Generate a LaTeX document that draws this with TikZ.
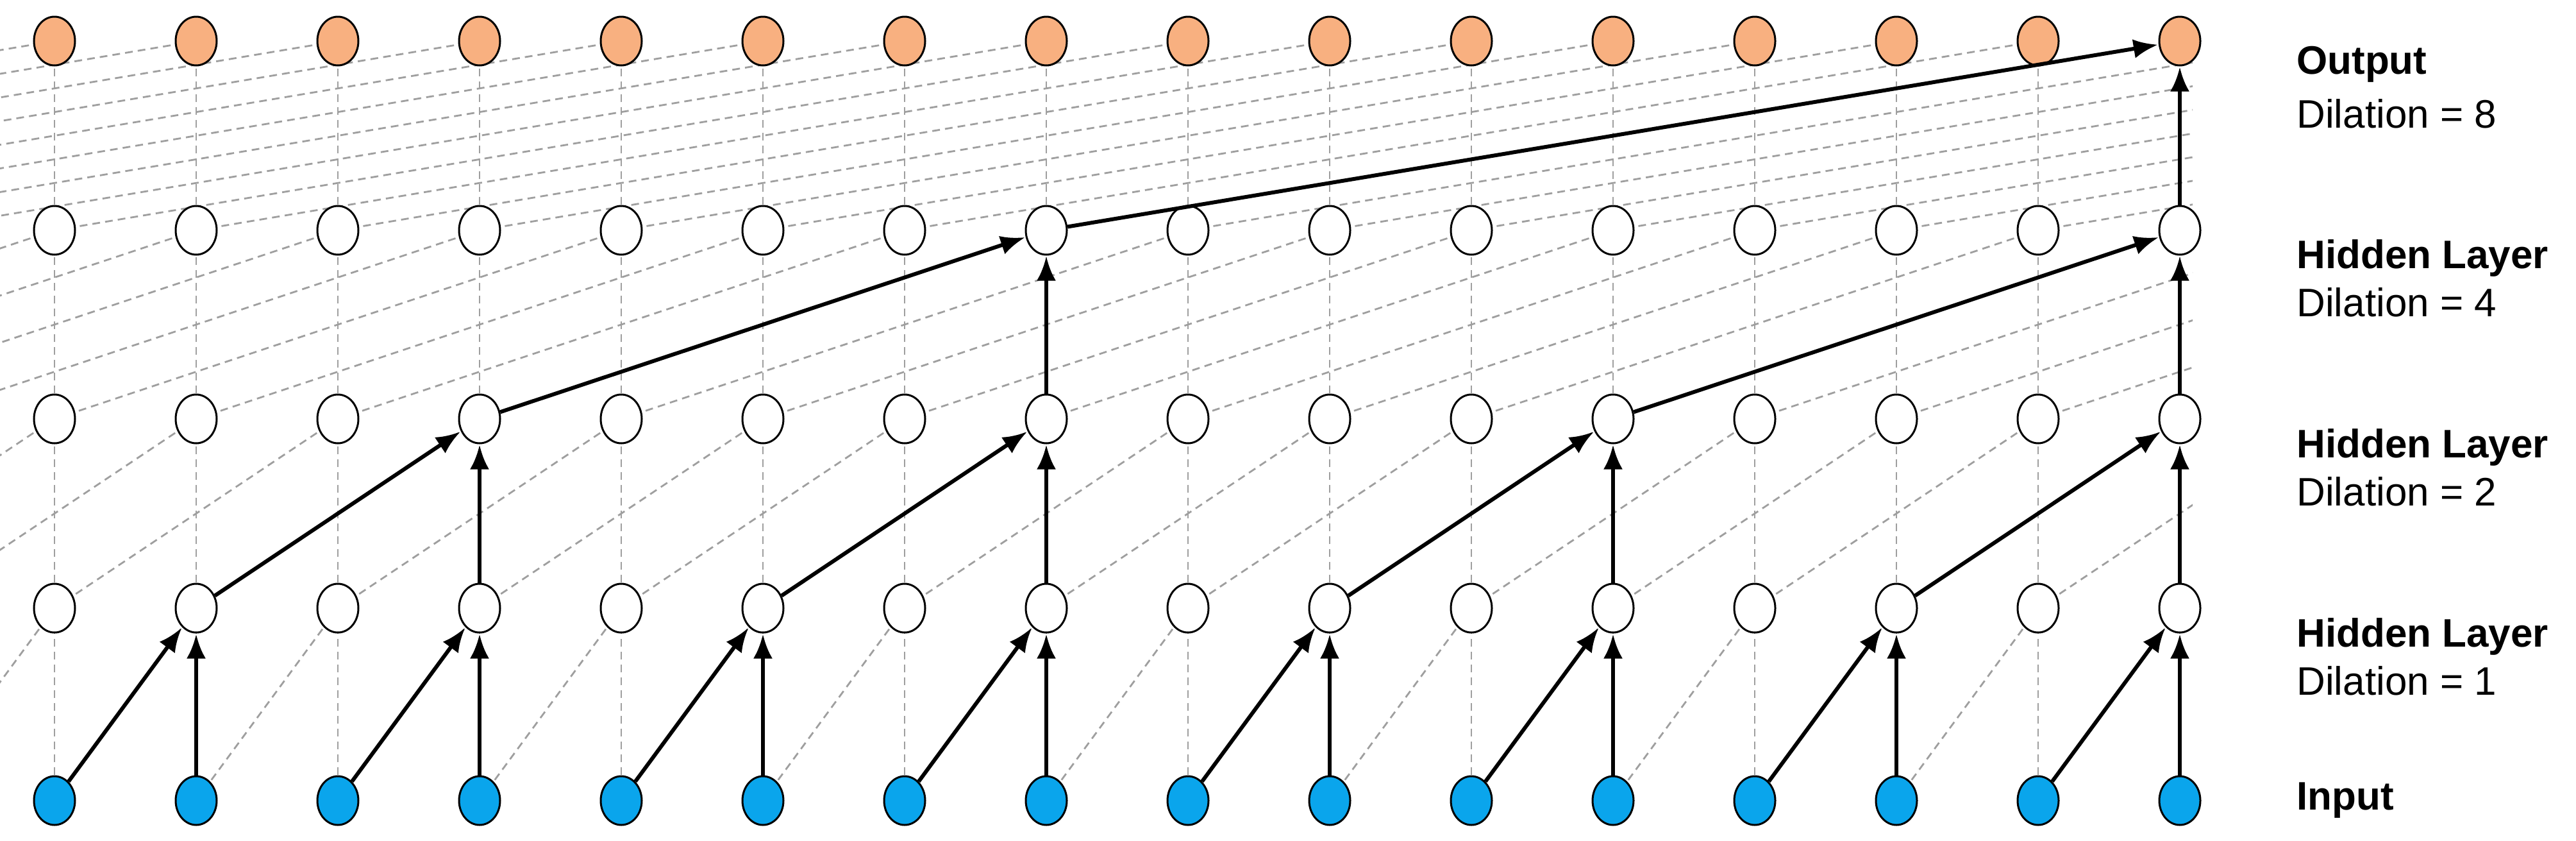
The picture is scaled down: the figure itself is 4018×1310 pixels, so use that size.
\documentclass[tikz,border=0pt]{standalone}
\usepackage{fontspec}
\setmainfont{Liberation Sans}
\usetikzlibrary{shapes.geometric,arrows.meta}
\definecolor{outc}{HTML}{F8B080}
\definecolor{inc}{HTML}{0AA5EC}
\begin{document}
\begin{tikzpicture}[x=1pt,y=-1pt,
  nd/.style={ellipse,draw=black,line width=3pt,minimum width=64pt,minimum height=76pt,inner sep=0pt,fill=white},
  dsh/.style={gray!75,dashed,line width=2.8pt,dash pattern=on 12pt off 8pt},
  arr/.style={-{Latex[length=38pt,width=30pt]},line width=6pt,shorten >=1pt},
  lb/.style={anchor=west,font=\fontsize{62}{64}\selectfont,inner sep=0pt},
  lbb/.style={lb,font=\fontsize{62}{64}\selectfont\bfseries}]
\useasboundingbox (0,0) rectangle (4018,1310);
\def\yy{{1248,948,653,359,64}}
% dashed lines (clipped)
\begin{scope}
\clip (0,0) rectangle (3420,1310);
\foreach \l/\d in {0/1,1/2,2/4,3/8}{
  \pgfmathsetmacro\ya{\yy[\l]}
  \pgfmathsetmacro\yb{\yy[\l+1]}
  \foreach \i in {-8,...,15}{
    \draw[dsh] (85+221*\i,\ya) -- (85+221*\i+221*\d,\yb);
    \draw[dsh] (85+221*\i,\ya) -- (85+221*\i,\yb);
  }
}
\end{scope}
% nodes
\foreach \l in {0,...,4}{
  \pgfmathsetmacro\y{\yy[\l]}
  \foreach \i in {0,...,15}{
    \ifnum\l=0 \node[nd,fill=inc] (n\l-\i) at (85+221*\i,\y) {};
    \else\ifnum\l=4 \node[nd,fill=outc] (n\l-\i) at (85+221*\i,\y) {};
    \else \node[nd] (n\l-\i) at (85+221*\i,\y) {};
    \fi\fi
  }
}
% arrows
\foreach \j in {1,3,5,7,9,11,13,15}{
  \pgfmathtruncatemacro\a{\j-1}
  \draw[arr] (n0-\a) -- (n1-\j);
  \draw[arr] (n0-\j) -- (n1-\j);
}
\foreach \j in {3,7,11,15}{
  \pgfmathtruncatemacro\a{\j-2}
  \draw[arr] (n1-\a) -- (n2-\j);
  \draw[arr] (n1-\j) -- (n2-\j);
}
\foreach \j in {7,15}{
  \pgfmathtruncatemacro\a{\j-4}
  \draw[arr] (n2-\a) -- (n3-\j);
  \draw[arr] (n2-\j) -- (n3-\j);
}
\draw[arr] (n3-7) -- (n4-15);
\draw[arr] (n3-15) -- (n4-15);
% labels
\node[lbb] (t1) at (3582,100) {Output};
\node[lb] (t2) at (3582,177) {Dilation = 8};
\node[lbb] (t3) at (3582,402) {Hidden Layer};
\node[lb] (t4) at (3582,471) {Dilation = 4};
\node[lbb] (t5) at (3582,697) {Hidden Layer};
\node[lb] (t6) at (3582,766) {Dilation = 2};
\node[lbb] (t7) at (3582,992) {Hidden Layer};
\node[lb] (t8) at (3582,1061) {Dilation = 1};
\node[lbb] (t9) at (3582,1248) {Input};
\end{tikzpicture}
\end{document}
